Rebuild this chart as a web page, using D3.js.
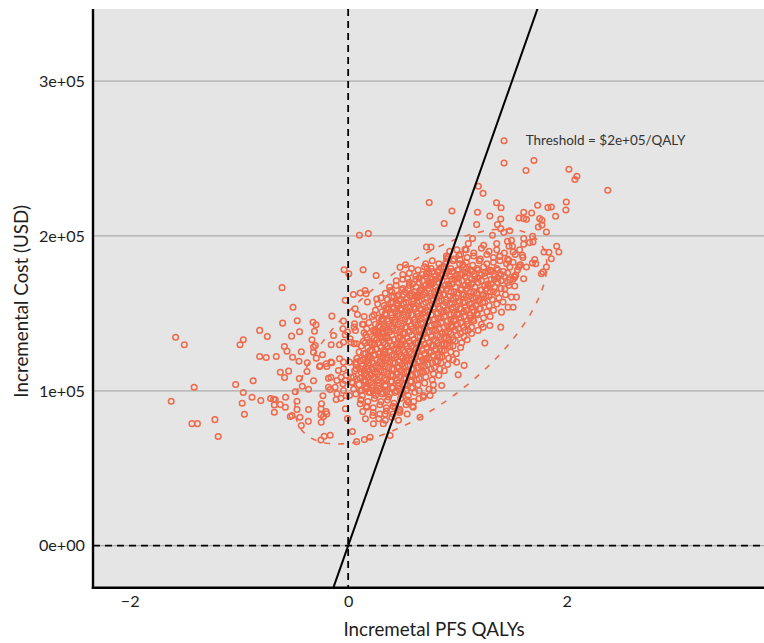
<!DOCTYPE html>
<html>
<head>
<meta charset="utf-8">
<script src="https://cdn.jsdelivr.net/npm/d3@7"></script>
<style>
  body { margin: 0; background: #fff; }
  svg { display: block; font-family: Lato, "Open Sans", sans-serif; }
</style>
</head>
<body>
<svg id="chart" width="764" height="643"></svg>
<script>
// simulated pairs: [incremental PFS QALYs, incremental cost in thousand USD]
const leftTail = [
  [-1.58,134.6],[-1.50,129.7],[-1.41,102.3],[-1.62,93.3],[-1.43,78.8],[-1.38,78.8],[-1.22,81.4],[-1.19,70.5],
  [-1.03,104.1],[-0.96,98.9],[-0.97,92.0],[-0.95,84.9],[-0.87,106.5],[-0.88,95.9],[-0.80,93.7],[-0.71,95.0],
  [-0.81,139.0],[-0.74,135.1],[-0.96,133.0],[-0.99,129.7],[-0.81,122.2],[-0.75,121.5]
];
const westCloud = [
  [-0.505,154.0],[-0.600,143.7],[-0.466,145.2],[-0.322,144.3],[-0.295,142.7],[-0.149,148.2],[-0.518,135.3],[-0.445,138.1],
  [-0.308,138.5],[-0.658,122.2],[-0.584,128.6],[-0.560,125.6],[-0.429,125.2],[-0.331,133.0],[-0.301,129.3],[-0.235,123.3],
  [-0.317,124.9],[-0.509,121.7],[-0.450,119.1],[-0.374,118.1],[-0.292,121.1],[-0.256,116.2],[-0.201,117.5],[-0.149,118.1],
  [-0.079,120.7],[-0.621,112.0],[-0.545,112.7],[-0.582,108.6],[-0.377,112.5],[-0.317,106.5],[-0.447,107.9],[-0.420,103.0],
  [-0.484,99.4],[-0.363,101.0],[-0.682,94.6],[-0.621,91.1],[-0.575,89.4],[-0.676,86.2],[-0.573,95.9],[-0.468,93.3],
  [-0.468,87.9],[-0.530,83.4],[-0.441,82.9],[-0.429,77.6],[-0.365,80.3],[-0.363,87.9],[-0.231,96.8],[-0.244,91.6],
  [-0.249,88.4],[-0.195,85.1],[-0.247,79.7],[-0.226,83.4],[-0.164,71.3],[-0.219,70.7],[-0.249,68.3],[-0.110,94.4],
  [-0.067,95.2],[-0.018,96.8],[-0.025,88.4],[-0.006,82.1],[0.039,73.7],[0.149,68.5],[-0.164,100.8],[-0.180,108.1],
  [-0.103,106.7],[-0.048,104.5],[-0.119,102.3],[-0.089,113.1],[-0.043,114.2],[-0.605,166.6],[-0.667,94.2],[-0.676,90.9],
  [-0.514,84.0],[-0.249,84.5],[-0.201,86.6],[-0.317,128.2]
];
const nearOrigin = [
  [-0.027,158.4],[0.048,162.2],[0.110,163.1],[0.155,164.8],[0.176,157.3],[0.064,153.0],[0.085,149.3],[0.146,148.0],
  [0.237,149.1],[-0.043,145.0],[-0.006,137.9],[0.058,143.3],[0.131,143.0],[-0.048,140.1],[0.067,139.0],[0.146,137.5],
  [0.247,137.9],[-0.134,135.7],[-0.027,136.2],[0.018,133.6],[0.171,134.6],[-0.155,129.7],[-0.079,129.7],[-0.043,131.4],
  [0.025,131.4],[0.079,130.4],[0.155,130.8],[0.216,130.4],[-0.262,115.7],[-0.195,115.7],[-0.158,118.5],[-0.043,118.5],
  [0.012,118.5],[0.073,118.5],[0.110,119.6],[0.185,120.2],[-0.158,108.8],[-0.064,108.8],[-0.018,109.9],[0.027,108.8],
  [0.073,114.2],[0.110,114.2],[0.149,113.1],[0.185,114.2],[-0.027,106.7],[0.034,105.6],[0.079,107.8],[0.140,106.7],
  [0.185,108.8],[-0.180,102.3],[-0.103,98.1],[-0.043,100.2],[0.012,97.0],[0.125,100.2],[0.171,101.3],[0.231,98.4],
  [0.116,94.2],[0.110,91.6],[0.134,86.6],[0.171,89.4],[0.226,84.0],[0.231,78.7],[0.158,81.9],[0.201,70.0],[0.078,67.2],
  [0.103,200.4],[0.185,201.5],[-0.037,178.2],[0.006,175.6],[0.137,178.1],[0.256,174.5]
];
const upperMid = [
  [0.742,221.5],[0.950,216.1],[0.879,208.0],[1.192,232.1],[1.235,227.5],[1.358,221.4],[1.400,218.2],[1.184,215.3],
  [1.297,212.9],[1.397,210.9],[1.176,207.3],[1.367,207.4],[1.397,204.7],[1.425,202.3],[1.479,203.3],[1.321,200.4],
  [1.139,198.3],[0.717,192.8],[0.758,192.8],[0.995,191.0],[1.070,191.3],[1.014,187.5],[1.023,184.7],[1.050,181.6],
  [0.475,179.7],[0.525,181.4],[0.723,178.9],[0.717,175.4],[0.849,179.5],[0.901,185.3],[0.892,182.1],[0.825,176.7],
  [0.545,172.4],[0.931,173.9],[0.998,175.2],[1.084,178.9],[0.164,162.7],[0.262,159.2],[0.384,164.8],[0.399,160.5],
  [0.658,164.8],[0.742,169.2],[0.764,170.2],[0.627,161.6],[0.566,161.6],[0.445,156.6],[0.347,153.6],[0.414,153.0],
  [0.505,156.6],[0.308,146.5],[0.140,142.9],[0.055,141.1],[0.247,139.0],[0.317,140.1],[0.055,130.4],[0.322,134.6],
  [0.490,130.4],[0.140,123.9],[0.247,123.3],[0.322,123.5],[0.916,186.4]
];
const upperRight = [
  [1.427,261.4],[1.427,247.1],[1.701,248.7],[1.628,242.2],[2.021,243.0],[2.094,238.5],[2.076,236.4],[2.377,229.5],
  [1.735,219.8],[1.829,218.3],[1.860,218.7],[1.997,221.9],[1.993,216.7],[1.899,212.7],[1.607,215.3],[1.680,214.8],
  [1.564,211.6],[1.607,211.2],[1.632,210.7],[1.753,211.2],[1.774,210.1],[1.741,205.8],[1.774,207.0],[1.815,202.5],
  [1.689,199.7],[1.607,198.3],[1.692,196.1],[1.607,194.6],[1.495,197.2],[1.504,193.3],[1.909,193.3],[1.929,189.6],
  [1.793,189.6],[1.860,185.3],[1.815,179.9],[1.769,175.6],[1.708,184.7],[1.717,182.1],[1.595,187.5],[1.632,179.9],
  [1.562,179.9],[1.607,172.4],[1.525,173.4],[1.525,167.6],[1.541,160.5],[1.510,154.0],[1.458,196.5],[1.473,193.3],
  [1.510,189.6],[1.662,195.7],[1.838,189.4],[1.687,182.5],[1.577,181.4],[1.784,176.7],[1.534,174.7],[1.470,184.2],
  [1.388,186.8],[1.479,171.7],[1.434,165.9],[1.495,160.5],[1.464,154.0],[1.418,157.3],[1.404,150.8],[1.297,142.2],
  [1.236,141.1],[1.397,141.1],[1.251,130.8]
];
const coreEdge = [
  [0.658,82.9],[0.596,89.4],[0.551,92.6],[0.384,71.1],[0.322,78.7],[0.338,85.1],[1.007,110.3],[1.062,116.4],
  [0.993,118.5],[1.099,139.0],[0.749,97.0],[0.688,95.9],[0.779,100.2],[0.856,103.4],[0.475,87.3],[0.429,89.4]
];
const core = [
  [1.10,195],[1.24,194],[1.36,195],
  [0.93,190],[1.08,191],[1.15,189],[1.22,192],[1.29,190],[1.36,191],[1.43,189],[1.57,191],
  [0.90,187],[0.97,185],[1.03,188],[1.09,186],[1.15,187],[1.21,185],[1.27,188],[1.33,186],[1.39,187],[1.46,185],[1.53,188],[1.60,186],
  [0.71,182],[0.77,184],[0.83,182],[0.90,183],[0.96,184],[1.02,182],[1.08,183],[1.14,181],[1.20,184],[1.27,182],[1.33,183],[1.39,184],[1.45,182],[1.51,183],[1.57,181],
  [0.58,179],[0.64,178],[0.70,180],[0.76,179],[0.82,177],[0.88,180],[0.94,179],[1.00,178],[1.06,180],[1.12,178],[1.18,179],[1.24,180],[1.30,178],[1.36,179],[1.42,177],[1.48,180],[1.55,178],
  [0.50,175],[0.56,176],[0.62,174],[0.68,175],[0.74,176],[0.80,174],[0.86,175],[0.92,177],[0.98,174],[1.04,175],[1.10,176],[1.16,174],[1.22,175],[1.28,177],[1.34,174],[1.40,175],[1.46,176],[1.52,174],
  [0.44,171],[0.50,172],[0.56,170],[0.62,172],[0.68,171],[0.74,170],[0.80,172],[0.86,171],[0.92,169],[0.98,172],[1.04,171],[1.10,170],[1.16,172],[1.22,171],[1.28,169],[1.34,172],[1.40,171],[1.46,170],[1.51,172],
  [0.38,167],[0.44,168],[0.50,166],[0.56,168],[0.62,167],[0.68,166],[0.74,168],[0.80,167],[0.86,166],[0.92,168],[0.98,167],[1.04,166],[1.10,168],[1.16,167],[1.22,165],[1.28,168],[1.34,167],[1.40,166],[1.47,168],
  [0.34,163],[0.40,164],[0.46,162],[0.52,164],[0.58,163],[0.64,162],[0.70,164],[0.76,163],[0.82,165],[0.88,162],[0.94,164],[1.00,163],[1.06,162],[1.12,164],[1.18,163],[1.24,162],[1.30,164],[1.36,163],[1.44,162],
  [0.30,160],[0.36,159],[0.42,161],[0.48,159],[0.54,160],[0.60,158],[0.66,161],[0.72,160],[0.78,159],[0.84,161],[0.90,159],[0.96,160],[1.02,158],[1.08,161],[1.14,160],[1.20,159],[1.26,161],[1.32,159],[1.38,160],
  [0.27,156],[0.33,155],[0.39,157],[0.45,155],[0.51,156],[0.57,154],[0.63,157],[0.69,156],[0.75,155],[0.81,157],[0.87,155],[0.93,156],[0.99,154],[1.05,157],[1.11,156],[1.17,155],[1.23,157],[1.29,155],[1.36,156],
  [0.25,152],[0.31,151],[0.37,153],[0.43,151],[0.49,152],[0.55,150],[0.61,153],[0.67,152],[0.73,151],[0.79,153],[0.85,151],[0.91,152],[0.97,150],[1.03,153],[1.09,152],[1.15,151],[1.21,153],[1.27,151],[1.33,152],
  [0.22,148],[0.28,147],[0.34,149],[0.40,147],[0.46,148],[0.52,146],[0.58,149],[0.64,148],[0.70,147],[0.76,149],[0.82,147],[0.88,148],[0.94,146],[1.00,149],[1.06,148],[1.12,147],[1.18,149],[1.24,147],[1.30,148],
  [0.19,144],[0.25,143],[0.31,145],[0.37,143],[0.43,144],[0.49,142],[0.55,145],[0.61,144],[0.67,143],[0.73,145],[0.79,143],[0.85,144],[0.91,142],[0.97,145],[1.03,144],[1.09,143],[1.15,145],[1.22,143],
  [0.17,140],[0.23,139],[0.29,141],[0.35,139],[0.41,140],[0.47,138],[0.53,141],[0.59,140],[0.65,139],[0.71,141],[0.77,139],[0.83,140],[0.89,138],[0.95,141],[1.01,140],[1.07,139],[1.13,141],[1.19,139],
  [0.16,136],[0.22,135],[0.28,137],[0.34,135],[0.40,136],[0.46,134],[0.52,137],[0.58,136],[0.64,135],[0.70,137],[0.76,135],[0.82,136],[0.88,134],[0.94,137],[1.00,136],[1.06,135],[1.13,137],
  [0.14,132],[0.20,131],[0.26,133],[0.32,131],[0.38,132],[0.44,130],[0.50,133],[0.56,132],[0.62,131],[0.68,133],[0.74,131],[0.80,132],[0.86,130],[0.92,133],[0.98,132],[1.04,131],[1.09,133],
  [0.12,129],[0.18,128],[0.24,130],[0.30,128],[0.36,129],[0.42,127],[0.48,130],[0.54,129],[0.60,128],[0.66,130],[0.72,128],[0.78,129],[0.84,127],[0.90,130],[0.96,129],[1.03,128],
  [0.10,125],[0.16,124],[0.22,126],[0.28,124],[0.34,125],[0.40,123],[0.46,126],[0.52,125],[0.58,124],[0.64,126],[0.70,124],[0.76,125],[0.82,123],[0.88,126],[0.94,125],[0.99,124],
  [0.08,121],[0.14,120],[0.20,122],[0.26,120],[0.32,121],[0.38,119],[0.44,122],[0.50,121],[0.56,120],[0.62,122],[0.68,120],[0.74,121],[0.80,119],[0.86,122],[0.92,121],[0.96,120],
  [0.07,117],[0.13,116],[0.19,118],[0.25,116],[0.31,117],[0.37,115],[0.43,118],[0.49,117],[0.55,116],[0.61,118],[0.67,116],[0.73,117],[0.79,115],[0.85,118],[0.91,117],
  [0.06,113],[0.12,112],[0.18,114],[0.24,112],[0.30,113],[0.36,111],[0.42,114],[0.48,113],[0.54,112],[0.60,114],[0.66,112],[0.72,113],[0.78,111],[0.84,114],[0.88,113],
  [0.05,109],[0.11,108],[0.17,110],[0.23,108],[0.29,109],[0.35,107],[0.41,110],[0.47,109],[0.53,108],[0.59,110],[0.65,108],[0.71,109],[0.77,107],[0.83,110],
  [0.04,105],[0.10,104],[0.16,106],[0.22,104],[0.28,105],[0.34,103],[0.40,106],[0.46,105],[0.52,104],[0.58,106],[0.64,104],[0.70,105],[0.78,104],
  [0.05,101],[0.11,100],[0.17,102],[0.23,100],[0.29,101],[0.35,99],[0.41,102],[0.47,101],[0.53,100],[0.59,102],[0.65,100],[0.74,101],
  [0.07,98],[0.13,97],[0.19,99],[0.25,97],[0.31,98],[0.37,96],[0.43,99],[0.49,98],[0.55,97],[0.61,99],[0.69,97],
  [0.12,94],[0.18,93],[0.24,95],[0.30,93],[0.36,94],[0.42,92],[0.48,95],[0.54,94],[0.60,93],[0.65,95],
  [0.17,90],[0.23,89],[0.29,91],[0.35,89],[0.41,90],[0.47,88],[0.53,91],[0.59,90],
  [0.23,86],[0.29,85],[0.35,87],[0.41,85],[0.47,86],[0.54,85],
  [0.28,82],[0.34,81],[0.40,83],[0.46,81]
];
// the solid middle of the cloud, between the rows above
const coreInner = [
  [0.77,177],[0.83,178],[0.89,176],[0.95,177],[1.01,178],[1.07,176],[1.13,177],[1.19,178],[1.25,176],[1.31,177],[1.37,178],
  [0.65,173],[0.71,174],[0.77,172],[0.83,173],[0.89,174],[0.95,172],[1.01,173],[1.07,174],[1.13,172],[1.19,173],[1.25,174],[1.31,172],[1.37,173],[1.43,174],
  [0.59,169],[0.65,170],[0.71,168],[0.77,169],[0.83,170],[0.89,168],[0.95,169],[1.01,170],[1.07,168],[1.13,169],[1.19,170],[1.25,168],[1.31,169],[1.37,170],
  [0.49,165],[0.55,166],[0.61,164],[0.67,165],[0.73,166],[0.79,164],[0.85,165],[0.91,166],[0.97,164],[1.03,165],[1.09,166],[1.15,164],[1.21,165],[1.27,166],[1.33,164],
  [0.45,161],[0.51,162],[0.57,161],[0.63,160],[0.69,162],[0.75,161],[0.81,160],[0.87,162],[0.93,161],[0.99,160],[1.05,162],[1.11,161],[1.17,160],[1.23,162],[1.29,161],
  [0.41,157],[0.47,158],[0.53,157],[0.59,156],[0.65,158],[0.71,157],[0.77,156],[0.83,158],[0.89,157],[0.95,156],[1.01,158],[1.07,157],[1.13,156],[1.19,158],[1.25,157],
  [0.36,153],[0.42,154],[0.48,153],[0.54,152],[0.60,154],[0.66,153],[0.72,152],[0.78,154],[0.84,153],[0.90,152],[0.96,154],[1.02,153],[1.08,152],[1.14,154],[1.20,153],
  [0.34,150],[0.40,149],[0.46,150],[0.52,151],[0.58,149],[0.64,150],[0.70,151],[0.76,149],[0.82,150],[0.88,151],[0.94,149],[1.00,150],[1.06,151],[1.12,149],[1.18,150],
  [0.31,146],[0.37,145],[0.43,146],[0.49,147],[0.55,145],[0.61,146],[0.67,147],[0.73,145],[0.79,146],[0.85,147],[0.91,145],[0.97,146],[1.03,147],[1.09,145],[1.14,146],
  [0.28,142],[0.34,141],[0.40,142],[0.46,143],[0.52,141],[0.58,142],[0.64,143],[0.70,141],[0.76,142],[0.82,143],[0.88,141],[0.94,142],[1.00,143],[1.06,141],
  [0.26,138],[0.32,137],[0.38,138],[0.44,139],[0.50,137],[0.56,138],[0.62,139],[0.68,137],[0.74,138],[0.80,139],[0.86,137],[0.92,138],[0.98,139],[1.03,137],
  [0.24,134],[0.30,135],[0.36,134],[0.42,133],[0.48,135],[0.54,134],[0.60,133],[0.66,135],[0.72,134],[0.78,133],[0.84,135],[0.90,134],[0.96,133],
  [0.22,130],[0.28,131],[0.34,130],[0.40,129],[0.46,131],[0.52,130],[0.58,129],[0.64,131],[0.70,130],[0.76,129],[0.82,131],[0.88,130],[0.93,129],
  [0.20,126],[0.26,127],[0.32,126],[0.38,125],[0.44,127],[0.50,126],[0.56,125],[0.62,127],[0.68,126],[0.74,125],[0.80,127],[0.86,126],
  [0.18,122],[0.24,123],[0.30,122],[0.36,121],[0.42,123],[0.48,122],[0.54,121],[0.60,123],[0.66,122],[0.72,121],[0.78,123],[0.84,122],
  [0.17,119],[0.23,118],[0.29,119],[0.35,120],[0.41,118],[0.47,119],[0.53,120],[0.59,118],[0.65,119],[0.71,120],[0.77,118],[0.82,119],
  [0.16,115],[0.22,114],[0.28,115],[0.34,116],[0.40,114],[0.46,115],[0.52,116],[0.58,114],[0.64,115],[0.70,116],[0.76,114],
  [0.15,111],[0.21,110],[0.27,111],[0.33,112],[0.39,110],[0.45,111],[0.51,112],[0.57,110],[0.63,111],[0.69,112],
  [0.15,107],[0.21,106],[0.27,107],[0.33,108],[0.39,106],[0.45,107],[0.51,108],[0.57,106],[0.63,107],
  [0.16,103],[0.22,102],[0.28,103],[0.34,104],[0.40,102],[0.46,103],[0.52,104],[0.58,102],
  [0.20,99],[0.26,100],[0.32,99],[0.38,98],[0.44,100],[0.50,99]
];

const xTicks = [-2, 0, 2];
const yTicks = [0, 100000, 200000, 300000];
const yTickLabels = ["0e+00", "1e+05", "2e+05", "3e+05"];
const wtp = 200000;
const thresholdLabel = "Threshold = $2e+05/QALY";
// 95% ellipse: centre and two conjugate half-axes, [QALY, USD]
const ellipseCentre = [0.666, 135100];
const ellipseAxisU = [1.153, 46100];
const ellipseAxisV = [0, 51900];

const points = [].concat(leftTail, westCloud, nearOrigin, upperMid, upperRight, coreEdge, core, coreInner)
    .map(d => ({qaly: d[0], cost: d[1] * 1000}));

const panel = {left: 93, right: 764, top: 9, bottom: 587.7};
const orange = "#EE6A4B";
const fontFamily = "Lato, 'Open Sans', sans-serif";

const svg = d3.select("#chart");

const x = d3.scaleLinear()
    .domain([-2.336, 3.807])
    .range([panel.left, panel.right]);

const y = d3.scaleLinear()
    .domain([-27100, 346500])
    .range([panel.bottom, panel.top]);

svg.append("defs").append("clipPath")
    .attr("id", "clip")
    .append("rect")
    .attr("x", panel.left)
    .attr("y", panel.top)
    .attr("width", panel.right - panel.left)
    .attr("height", panel.bottom - panel.top);

svg.append("rect")
    .attr("x", panel.left)
    .attr("y", panel.top)
    .attr("width", panel.right - panel.left)
    .attr("height", panel.bottom - panel.top)
    .attr("fill", "#E5E5E5");

// horizontal grid only
svg.append("g")
    .selectAll("line")
    .data(yTicks)
    .enter()
    .append("line")
    .attr("x1", panel.left)
    .attr("x2", panel.right)
    .attr("y1", d => y(d))
    .attr("y2", d => y(d))
    .attr("stroke", "#ABABAB")
    .attr("stroke-width", 1.3);

const plot = svg.append("g").attr("clip-path", "url(#clip)");

plot.append("g")
    .selectAll("circle")
    .data(points)
    .enter()
    .append("circle")
    .attr("cx", d => x(d.qaly))
    .attr("cy", d => y(d.cost))
    .attr("r", 2.8)
    .attr("fill", "none")
    .attr("stroke", orange)
    .attr("stroke-width", 1.5);

const ellipsePts = d3.range(0, 201).map(i => {
    const t = i / 200 * 2 * Math.PI;
    return [
        ellipseCentre[0] + ellipseAxisU[0] * Math.cos(t) + ellipseAxisV[0] * Math.sin(t),
        ellipseCentre[1] + ellipseAxisU[1] * Math.cos(t) + ellipseAxisV[1] * Math.sin(t)
    ];
});

plot.append("path")
    .attr("d", d3.line().x(d => x(d[0])).y(d => y(d[1]))(ellipsePts))
    .attr("fill", "none")
    .attr("stroke", orange)
    .attr("stroke-width", 1.6)
    .attr("stroke-dasharray", "6,8");

// zero reference lines
plot.append("line")
    .attr("x1", x(0)).attr("x2", x(0))
    .attr("y1", panel.top).attr("y2", panel.bottom)
    .attr("stroke", "#000")
    .attr("stroke-width", 1.8)
    .attr("stroke-dasharray", "7,5");

plot.append("line")
    .attr("x1", panel.left).attr("x2", panel.right)
    .attr("y1", y(0)).attr("y2", y(0))
    .attr("stroke", "#000")
    .attr("stroke-width", 1.8)
    .attr("stroke-dasharray", "7,5");

// willingness-to-pay line through the origin
const xd = x.domain();
plot.append("line")
    .attr("x1", x(xd[0])).attr("y1", y(wtp * xd[0]))
    .attr("x2", x(xd[1])).attr("y2", y(wtp * xd[1]))
    .attr("stroke", "#000")
    .attr("stroke-width", 2);

svg.append("text")
    .attr("x", x(1.625))
    .attr("y", y(258500))
    .attr("font-size", "13.5px")
    .attr("fill", "#333")
    .text(thresholdLabel);

// axes
const yAxis = svg.append("g")
    .attr("transform", `translate(${panel.left},0)`)
    .call(d3.axisLeft(y).tickValues(yTicks).tickSize(0).tickPadding(8)
        .tickFormat((d, i) => yTickLabels[i]));
yAxis.select(".domain").remove();
yAxis.selectAll("text")
    .attr("font-family", fontFamily)
    .attr("font-size", "16.2px")
    .attr("fill", "#1e1e1e");

const xAxis = svg.append("g")
    .attr("transform", `translate(0,${panel.bottom})`)
    .call(d3.axisBottom(x).tickValues(xTicks).tickSize(0).tickPadding(8)
        .tickFormat(d3.format("d")));
xAxis.select(".domain").remove();
xAxis.selectAll("text")
    .attr("font-family", fontFamily)
    .attr("font-size", "16.2px")
    .attr("fill", "#1e1e1e");

svg.append("line")
    .attr("x1", panel.left).attr("x2", panel.left)
    .attr("y1", panel.top).attr("y2", panel.bottom + 1.2)
    .attr("stroke", "#000")
    .attr("stroke-width", 2.4);

svg.append("line")
    .attr("x1", panel.left - 1.2).attr("x2", panel.right)
    .attr("y1", panel.bottom).attr("y2", panel.bottom)
    .attr("stroke", "#000")
    .attr("stroke-width", 2.4);

svg.append("text")
    .attr("x", 434)
    .attr("y", 636)
    .attr("text-anchor", "middle")
    .attr("font-size", "18.8px")
    .attr("fill", "#1e1e1e")
    .text("Incremetal PFS QALYs");

svg.append("text")
    .attr("transform", `translate(28,${(panel.top + panel.bottom) / 2 + 3}) rotate(-90)`)
    .attr("text-anchor", "middle")
    .attr("font-size", "18.8px")
    .attr("fill", "#1e1e1e")
    .text("Incremental Cost (USD)");
</script>
</body>
</html>
